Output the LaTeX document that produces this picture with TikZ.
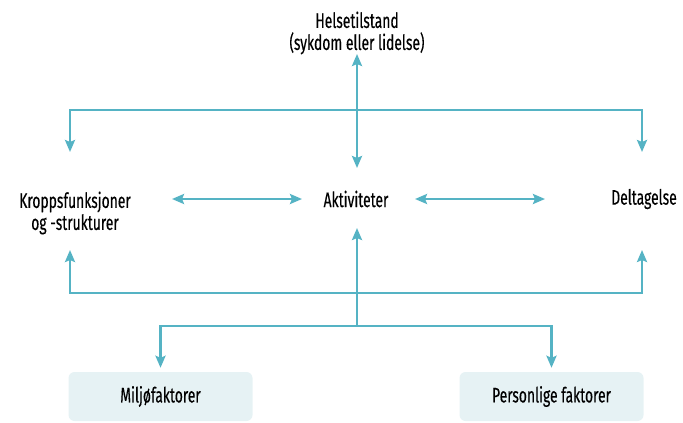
\documentclass[tikz,border=0pt]{standalone}
\usepackage{fontspec}
\setmainfont{Fira Sans}[FakeStretch=0.66,FakeBold=0.3]
\usetikzlibrary{arrows.meta}
\definecolor{icfline}{HTML}{55B3C4}
\definecolor{icfbox}{HTML}{E6F2F4}

\begin{document}
\begin{tikzpicture}[x=1pt,y=-1pt,
   lbl/.style={font=\fontsize{21}{22}\selectfont,align=center,inner sep=0pt},
   fbox/.style={lbl,fill=icfbox,rounded corners=6pt,minimum width=184pt,minimum height=49pt},
   conn/.style={draw=icfline,line width=2.6pt,-{Stealth[length=12pt,width=10pt,inset=2pt]}},
   both/.style={conn,{Stealth[length=12pt,width=10pt,inset=2pt]}-{Stealth[length=12pt,width=10pt,inset=2pt]}}]
   \useasboundingbox (0,0) rectangle (683,423);
   % tekster
   \node[lbl] (helse) at (357,33) {Helsetilstand\\(sykdom eller lidelse)};
   \node[lbl] (akt) at (356,199) {Aktiviteter};
   \node[lbl] (kropp) at (75,213) {Kroppsfunksjoner\\og -strukturer};
   \node[lbl] (delt) at (644,199) {Deltagelse};
   \node[fbox] (miljo) at (160.5,396.5) {Miljøfaktorer};
   \node[fbox] (pers) at (551.5,396.5) {Personlige faktorer};
   % knutepunkt
   \coordinate (top) at (357,110);
   \coordinate (bot) at (357,293);
   \coordinate (split) at (357,326);
   % piler
   \draw[both,shorten <=21pt,shorten >=31pt] (helse.center) -- (helse.center |- akt);
   \draw[conn,shorten >=61pt] (top) -| ([xshift=-5pt]kropp.center);
   \draw[conn,shorten >=47pt] (top) -| ([xshift=-2pt]delt.center);
   \draw[both,shorten <=97pt,shorten >=54pt] (kropp.center |- akt) -- (akt.center);
   \draw[both,shorten <=59pt,shorten >=99pt] (akt.center) -- (delt.center);
   \draw[conn,shorten >=29pt] (split) -- (split |- akt);
   \draw[conn,shorten >=37pt] (bot) -| ([xshift=-5pt]kropp.center);
   \draw[conn,shorten >=51pt] (bot) -| ([xshift=-2pt]delt.center);
   \draw[conn,shorten >=4pt] (split) -| (miljo.north);
   \draw[conn,shorten >=4pt] (split) -| (pers.north);
\end{tikzpicture}
\end{document}
